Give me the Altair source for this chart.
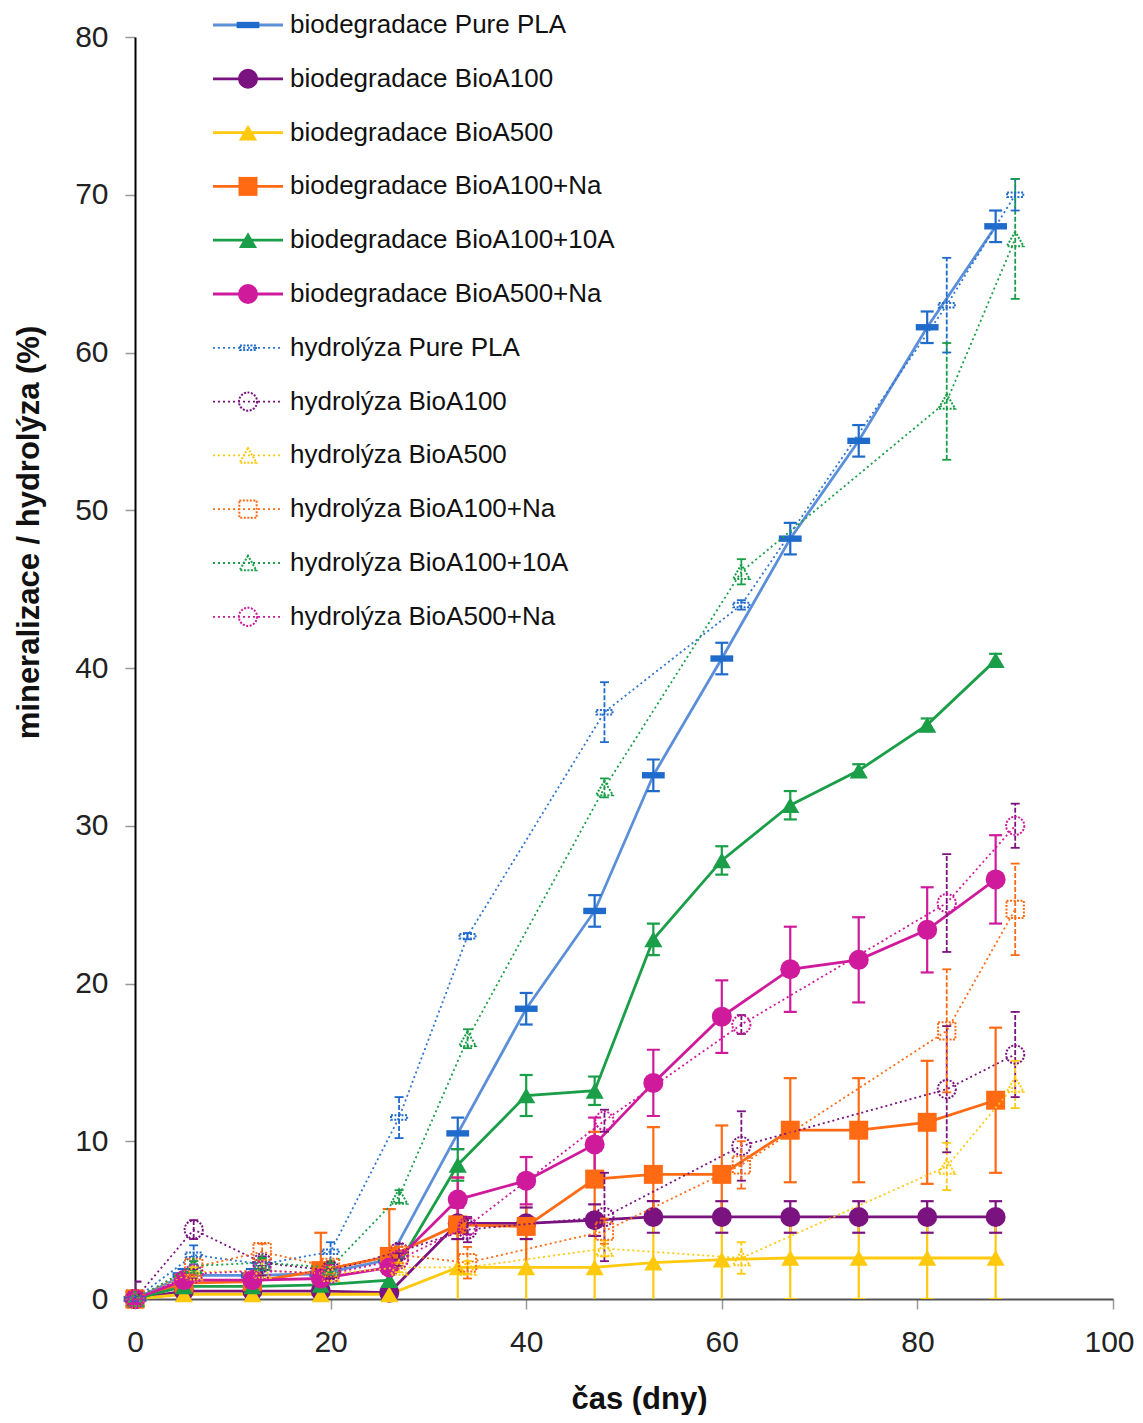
import altair as alt
import pandas as pd

# ---------------- data ----------------
bio_days = [0, 5, 12, 19, 26, 33, 40, 47, 53, 60, 67, 74, 81, 88]
hyd_days = [0, 6, 13, 20, 27, 34, 48, 62, 83, 90]

series_names = ["Pure PLA", "BioA100", "BioA500", "BioA100+Na", "BioA100+10A", "BioA500+Na"]

bio_pla = [0, 1.5, 1.5, 1.6, 2.5, 10.5, 18.4, 24.6, 33.2, 40.6, 48.2, 54.4, 61.6, 68.0]
bio_pla_err = [0.3, 0.4, 0.4, 0.4, 0.5, 1.0, 1.0, 1.0, 1.0, 1.0, 1.0, 1.0, 1.0, 1.0]
bio_a100 = [0, 0.5, 0.5, 0.5, 0.4, 4.8, 4.8, 5.0, 5.2, 5.2, 5.2, 5.2, 5.2, 5.2]
bio_a100_err = [1.1, 0.3, 0.3, 0.3, 0.3, 1.0, 1.0, 1.0, 1.0, 1.0, 1.0, 1.0, 1.0, 1.0]
bio_a500 = [0, 0.3, 0.3, 0.3, 0.3, 2.0, 2.0, 2.0, 2.3, 2.5, 2.6, 2.6, 2.6, 2.6]
bio_a500_err = [0.2, 0.3, 0.3, 0.3, 0.3, 2.6, 2.6, 2.6, 2.6, 2.6, 2.6, 2.6, 2.6, 2.6]
bio_na = [0, 1.0, 1.1, 1.8, 2.7, 4.7, 4.6, 7.6, 7.9, 7.9, 10.7, 10.7, 11.2, 12.6]
bio_na_err = [0.3, 0.4, 0.5, 2.4, 3.0, 3.0, 3.0, 3.0, 3.0, 3.1, 3.3, 3.3, 3.9, 4.6]
bio_10a = [0, 0.8, 0.8, 0.9, 1.2, 8.5, 12.9, 13.2, 22.8, 27.8, 31.3, 33.5, 36.4, 40.5]
bio_10a_err = [0.2, 0.3, 0.3, 0.3, 0.4, 1.0, 1.3, 0.9, 1.0, 0.9, 0.9, 0.4, 0.4, 0.4]
bio_a500na = [0, 1.2, 1.2, 1.3, 2.0, 6.3, 7.5, 9.8, 13.7, 17.9, 20.9, 21.5, 23.4, 26.6]
bio_a500na_err = [0.3, 0.3, 0.3, 0.3, 0.4, 1.4, 1.5, 1.7, 2.1, 2.3, 2.7, 2.7, 2.7, 2.8]

hyd_pla = [0, 2.8, 2.2, 3.0, 11.5, 23.0, 37.2, 44.0, 63.0, 70.0]
hyd_pla_err = [0.2, 0.6, 0.4, 0.6, 1.3, 0.2, 1.9, 0.3, 3.0, 1.0]
hyd_a100 = [0, 4.4, 2.3, 1.8, 3.0, 4.4, 5.2, 9.7, 13.3, 15.5]
hyd_a100_err = [0.2, 0.6, 0.4, 0.4, 0.5, 0.8, 2.8, 2.2, 4.0, 2.7]
hyd_a500 = [0, 1.7, 1.8, 1.6, 2.0, 2.0, 3.2, 2.6, 8.4, 13.6]
hyd_a500_err = [0.2, 0.3, 0.3, 0.3, 0.3, 0.4, 0.5, 1.0, 1.5, 1.5]
hyd_na = [0, 2.0, 3.0, 2.0, 2.8, 2.3, 4.3, 8.5, 17.0, 24.7]
hyd_na_err = [0.2, 0.4, 0.5, 0.4, 0.5, 1.0, 0.8, 1.5, 3.9, 2.9]
hyd_10a = [0, 2.1, 2.3, 2.0, 6.5, 16.5, 32.4, 46.1, 56.9, 67.2]
hyd_10a_err = [0.2, 0.3, 0.3, 0.3, 0.4, 0.6, 0.6, 0.8, 3.7, 3.8]
hyd_a500na = [0, 1.6, 1.8, 1.6, 2.5, 4.6, 11.3, 17.4, 25.1, 30.0]
hyd_a500na_err = [0.2, 0.3, 0.3, 0.3, 0.4, 0.5, 0.7, 0.6, 3.1, 1.4]

bio_values = [bio_pla, bio_a100, bio_a500, bio_na, bio_10a, bio_a500na]
bio_errors = [bio_pla_err, bio_a100_err, bio_a500_err, bio_na_err, bio_10a_err, bio_a500na_err]
hyd_values = [hyd_pla, hyd_a100, hyd_a500, hyd_na, hyd_10a, hyd_a500na]
hyd_errors = [hyd_pla_err, hyd_a100_err, hyd_a500_err, hyd_na_err, hyd_10a_err, hyd_a500na_err]

# ---------------- styles ----------------
FONT = "Liberation Sans"
DASH = "M-1,-0.28L1,-0.28L1,0.28L-1,0.28Z"
PURPLE = "#7A137F"
marker_col = {"Pure PLA": "#1F6BCB", "BioA100": PURPLE, "BioA500": "#FFC90E",
              "BioA100+Na": "#FF6A13", "BioA100+10A": "#1A9E48", "BioA500+Na": "#CF1A9C"}
bio_line_col = dict(marker_col, **{"Pure PLA": "#5C8FDA"})
hyd_line_col = dict(marker_col, **{"Pure PLA": "#2E74D0"})
hyd_err_col = dict(marker_col, **{"BioA500+Na": PURPLE})
shape_of = {"Pure PLA": DASH, "BioA100": "circle", "BioA500": "triangle-up",
            "BioA100+Na": "square", "BioA100+10A": "triangle-up", "BioA500+Na": "circle"}
bio_size = {"Pure PLA": 520, "BioA100": 400, "BioA500": 330, "BioA100+Na": 360,
            "BioA100+10A": 330, "BioA500+Na": 400}
hyd_size = {"Pure PLA": 260, "BioA100": 330, "BioA500": 280, "BioA100+Na": 300,
            "BioA100+10A": 280, "BioA500+Na": 330}


def build(kind, days, values, errors):
    rows = []
    for i, name in enumerate(series_names):
        for d, v, e in zip(days, values[i], errors[i]):
            rows.append({
                "series": f"{kind} {name}", "day": d, "value": v,
                "lo": v - e, "hi": v + e,
                "lcol": (bio_line_col if kind == "bio" else hyd_line_col)[name],
                "mcol": marker_col[name],
                "ecol": (marker_col if kind == "bio" else hyd_err_col)[name],
                "shape": shape_of[name],
                "msize": (bio_size if kind == "bio" else hyd_size)[name],
                "order": i,
            })
    return pd.DataFrame(rows)


bio_df = build("bio", bio_days, bio_values, bio_errors)
hyd_df = build("hyd", hyd_days, hyd_values, hyd_errors)

# ---------------- geometry ----------------
W, H = 978, 1262
LEFT, TOP = 135, 37
CANVAS_RIGHT, CANVAS_BOTTOM = 1135, 1415   # stay inside the 8px page margin

xs = alt.Scale(domain=[0, 100], nice=False, zero=False)
ys = alt.Scale(domain=[0, 80], nice=False)

xaxis = alt.Axis(title="čas (dny)", values=[0, 20, 40, 60, 80, 100], grid=False,
                 labelFontSize=30, labelFont=FONT, labelColor="#222", labelPadding=18,
                 labelOffset={"condition": {"test": "datum.value === 100", "value": -4}, "value": 0},
                 tickSize=10, tickColor="#999", tickWidth=1.5,
                 domainColor="#555", domainWidth=2,
                 titleFont=FONT, titleFontSize=31, titleFontWeight="bold", titleColor="#111",
                 titleX=504, titleY=109, titleBaseline="alphabetic", labelFlush=False)
yaxis = alt.Axis(title="mineralizace / hydrolýza (%)", values=list(range(0, 81, 10)), grid=False,
                 labelFontSize=30, labelFont=FONT, labelColor="#222", labelPadding=17,
                 tickSize=10, tickColor="#999", tickWidth=1.5,
                 domainColor="#000", domainWidth=2,
                 titleFont=FONT, titleFontSize=31, titleFontWeight="bold", titleColor="#111",
                 titleX=-97, titleY=495, titleAngle=270, titleBaseline="alphabetic",
                 titleAlign="center", labelFlush=False)


def X(field):
    return alt.X(field, scale=xs, axis=xaxis)


def Y(field):
    return alt.Y(field, scale=ys, axis=yaxis)


def series_layers(df, hyd):
    base = alt.Chart(df)
    if hyd:
        line = base.mark_line(strokeWidth=1.8, strokeDash=[2, 3])
    else:
        line = base.mark_line(strokeWidth=2.8)
    line = line.encode(X("day:Q"), Y("value:Q"), color=alt.Color("lcol:N", scale=None),
                       detail="series:N", order="day:Q")
    ew = 1.8 if hyd else 2.2
    rule_kw = dict(strokeWidth=ew, clip=True)
    if hyd:
        rule_kw["strokeDash"] = [5, 2]
    rule = base.mark_rule(**rule_kw).encode(
        X("day:Q"), Y("lo:Q"), y2="hi:Q", color=alt.Color("ecol:N", scale=None))
    cap = 9 if hyd else 13
    cap_lo = base.mark_tick(orient="horizontal", size=cap, thickness=ew, opacity=1, clip=True).encode(
        X("day:Q"), Y("lo:Q"), color=alt.Color("ecol:N", scale=None))
    cap_hi = base.mark_tick(orient="horizontal", size=cap, thickness=ew, opacity=1, clip=True).encode(
        X("day:Q"), Y("hi:Q"), color=alt.Color("ecol:N", scale=None))
    if hyd:
        pts = base.mark_point(filled=False, opacity=1, strokeWidth=2, strokeDash=[2, 1.5])
    else:
        pts = base.mark_point(filled=True, opacity=1)
    pts = pts.encode(X("day:Q"), Y("value:Q"), color=alt.Color("mcol:N", scale=None),
                     shape=alt.Shape("shape:N", scale=None), size=alt.Size("msize:Q", scale=None))
    return [line, rule, cap_lo, cap_hi, pts]


# ---------------- custom legend (in data coordinates) ----------------
def to_x(px):
    return (px - LEFT) * 100 / W


def to_y(py):
    return (H - (py - TOP)) * 80 / H


leg_rows = []
k = 0
for kind in ["bio", "hyd"]:
    for name in series_names:
        leg_rows.append({
            "label": ("biodegradace " if kind == "bio" else "hydrolýza ") + name,
            "kind": kind,
            "x0": to_x(213), "x1": to_x(283), "xm": to_x(248), "xt": to_x(290),
            "y": to_y(25 + 53.8 * k),
            "lcol": (bio_line_col if kind == "bio" else hyd_line_col)[name],
            "mcol": marker_col[name], "shape": shape_of[name],
            "msize": (bio_size if kind == "bio" else hyd_size)[name],
        })
        k += 1
leg_df = pd.DataFrame(leg_rows)
leg_bio = leg_df[leg_df.kind == "bio"]
leg_hyd = leg_df[leg_df.kind == "hyd"]

leg_layers = [
    alt.Chart(leg_bio).mark_rule(strokeWidth=2.8).encode(
        X("x0:Q"), x2="x1:Q", y=Y("y:Q"), color=alt.Color("lcol:N", scale=None)),
    alt.Chart(leg_hyd).mark_rule(strokeWidth=1.8, strokeDash=[2, 3]).encode(
        X("x0:Q"), x2="x1:Q", y=Y("y:Q"), color=alt.Color("lcol:N", scale=None)),
    alt.Chart(leg_bio).mark_point(filled=True, opacity=1).encode(
        X("xm:Q"), Y("y:Q"), color=alt.Color("mcol:N", scale=None),
        shape=alt.Shape("shape:N", scale=None), size=alt.Size("msize:Q", scale=None)),
    alt.Chart(leg_hyd).mark_point(filled=False, opacity=1, strokeWidth=2, strokeDash=[2, 1.5]).encode(
        X("xm:Q"), Y("y:Q"), color=alt.Color("mcol:N", scale=None),
        shape=alt.Shape("shape:N", scale=None), size=alt.Size("msize:Q", scale=None)),
    alt.Chart(leg_df).mark_text(align="left", baseline="middle", font=FONT, fontSize=26,
                                color="#111").encode(X("xt:Q"), Y("y:Q"), text="label:N"),
]

layers = series_layers(bio_df, False) + series_layers(hyd_df, True) + leg_layers

chart = alt.layer(*layers).properties(
    width=W, height=H,
    autosize=alt.AutoSizeParams(type="none"),
    padding={"left": LEFT - 8, "top": TOP - 8,
             "right": CANVAS_RIGHT - LEFT - W, "bottom": CANVAS_BOTTOM - TOP - H},
).configure(font=FONT).configure_view(stroke=None)

chart.save("out.html", embed_options={"renderer": "svg", "actions": False})
